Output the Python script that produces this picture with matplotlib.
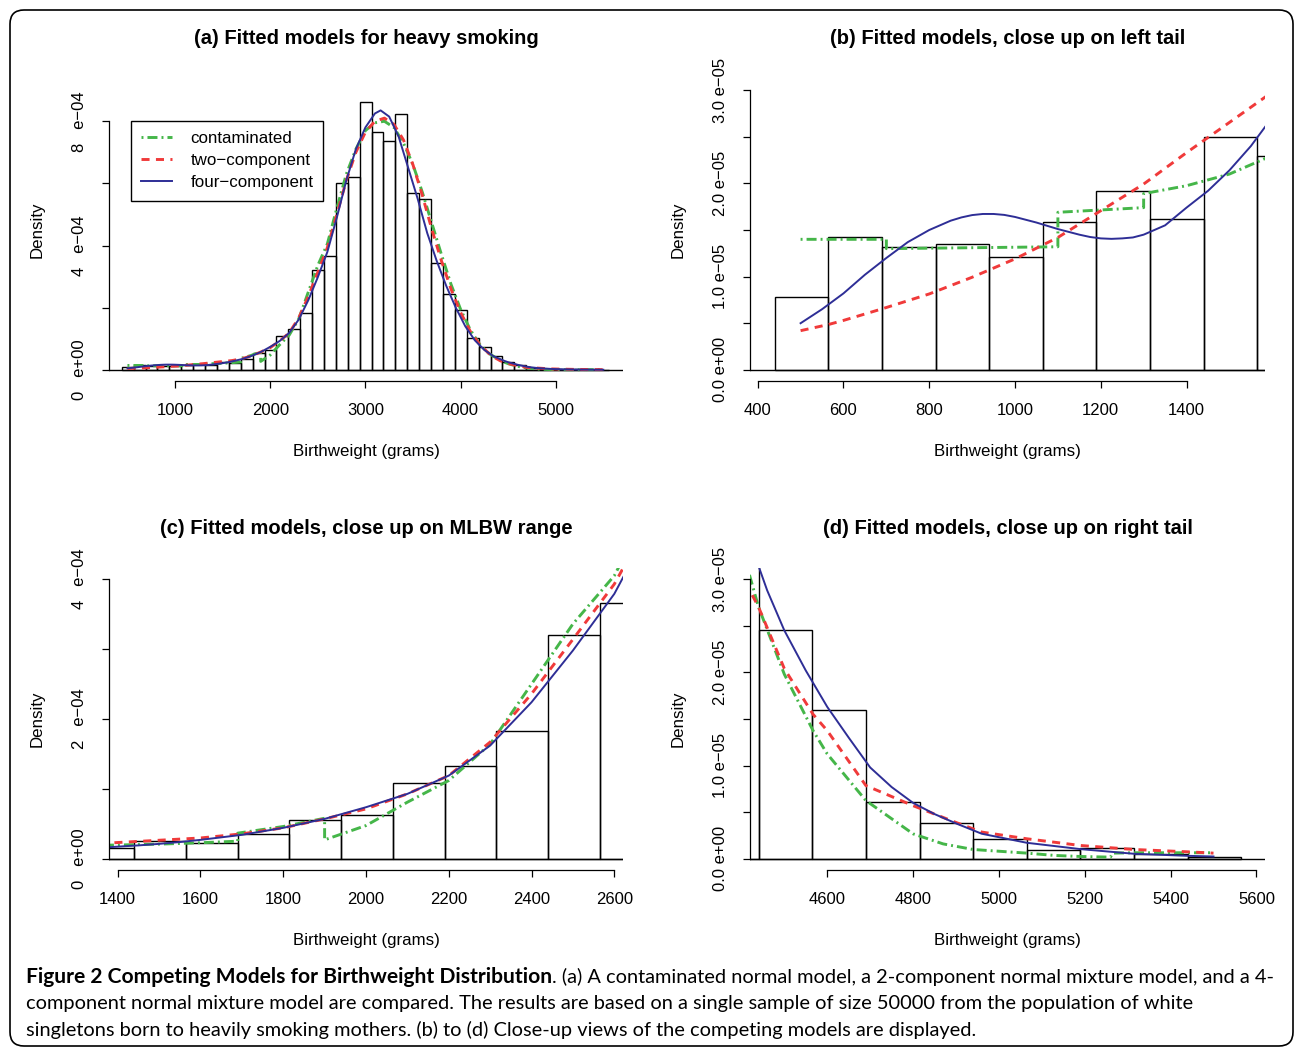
import numpy as np
import matplotlib
matplotlib.use('Agg')
import matplotlib.pyplot as plt
from matplotlib.patches import FancyBboxPatch
from matplotlib.transforms import IdentityTransform

plt.rcParams['font.family'] = ['Liberation Sans', 'DejaVu Sans']
plt.rcParams['lines.scale_dashes'] = False

# histogram of birthweights (bins of 125 g, left edges 440..5440 g), density in units of 1e-5
bin_left = np.arange(440, 5441, 125)
hist_density = [0.786, 1.425, 1.314, 1.346, 1.214, 1.582, 1.918, 1.614, 2.496, 2.289,
                3.57, 5.57, 6.33, 10.81, 13.24, 18.24, 32.05, 36.57, 60.2, 62.0,
                86.1, 76.5, 73.6, 82.2, 56.8, 55.0, 34.3, 24.5, 19.1, 10.2,
                7.5, 4.3, 2.45, 1.60, 0.611, 0.386, 0.215, 0.097, 0.115, 0.054, 0.018]

# contaminated normal model (density in 1e-5)
x_cont = [500, 700, 700, 1100, 1100, 1300, 1300, 1400, 1500, 1600, 1690, 1690, 1800, 1900, 1900,
          2000, 2100, 2200, 2300, 2400, 2500, 2600, 2700, 2800, 2900, 3000, 3100, 3200, 3300,
          3400, 3500, 3600, 3700, 3800, 3900, 4000, 4100, 4200, 4300, 4360, 4420, 4440, 4500,
          4567, 4600, 4690, 4800, 4870, 4940, 5065, 5130, 5190, 5260, 5265, 5315, 5440, 5500]
y_cont = [1.40, 1.40, 1.30, 1.32, 1.69, 1.74, 1.89, 1.975, 2.10, 2.30, 2.52, 3.67, 4.62, 5.80, 2.71,
          4.76, 8.10, 11.2, 16.4, 25.0, 33.6, 40.5, 52, 63, 71, 77, 79.5, 80, 78,
          73, 66, 57, 47, 37, 27.5, 19.5, 13, 8.2, 5.2, 4.1, 3.025, 2.70, 1.98,
          1.375, 1.125, 0.625, 0.268, 0.16, 0.10, 0.061, 0.036, 0.025, 0.018, 0.061, 0.065, 0.065, 0.065]

# two-component normal mixture
x_two = [500, 565, 600, 690, 800, 900, 1000, 1100, 1200, 1300, 1400, 1500, 1600, 1700, 1800,
         1900, 2000, 2100, 2200, 2300, 2400, 2500, 2600, 2700, 2800, 2900, 3000, 3100, 3200,
         3300, 3400, 3500, 3600, 3700, 3800, 3900, 4000, 4100, 4200, 4300, 4360, 4420, 4440,
         4500, 4567, 4600, 4690, 4800, 4900, 4960, 5065, 5190, 5315, 5440, 5500]
y_two = [0.42, 0.486, 0.53, 0.654, 0.814, 0.993, 1.19, 1.42, 1.707, 1.993, 2.33, 2.654, 2.98, 3.57, 4.43,
         5.71, 7.14, 9.29, 11.9, 16.7, 23.6, 31.4, 39.3, 50, 61, 70, 76.5, 80, 81,
         79, 74, 66, 56, 45, 35, 26, 18.5, 12.5, 8.2, 5.2, 3.9, 2.875, 2.70,
         2.04, 1.55, 1.375, 0.786, 0.57, 0.39, 0.287, 0.215, 0.143, 0.10, 0.075, 0.061]

# four-component normal mixture
x_four = [500, 550, 600, 650, 700, 750, 800, 850, 875, 900, 925, 950, 975, 1000, 1050, 1100,
          1150, 1175, 1200, 1225, 1250, 1275, 1300, 1350, 1400, 1450, 1500, 1550, 1600, 1700,
          1800, 1900, 2000, 2100, 2200, 2300, 2400, 2500, 2600, 2700, 2800, 2900, 3000, 3100,
          3160, 3250, 3350, 3450, 3550, 3650, 3750, 3850, 3950, 4050, 4150, 4250, 4350, 4420,
          4460, 4500, 4550, 4600, 4650, 4700, 4750, 4800, 4850, 4900, 4960, 5065, 5190, 5315,
          5440, 5500]
y_four = [0.50, 0.65, 0.82, 1.02, 1.20, 1.37, 1.50, 1.60, 1.635, 1.66, 1.672, 1.672, 1.662, 1.64, 1.58, 1.51,
          1.45, 1.425, 1.41, 1.405, 1.41, 1.42, 1.45, 1.55, 1.74, 1.92, 2.14, 2.40, 2.71, 3.43,
          4.43, 5.71, 7.38, 9.29, 11.9, 16.2, 22.4, 29.8, 37.9, 49, 61, 71, 78, 82.5,
          83.5, 81.5, 75, 65, 55, 44, 35, 27, 20, 14, 9.5, 6.4, 4.3, 3.4,
          2.88, 2.45, 2.02, 1.63, 1.30, 0.98, 0.77, 0.60, 0.48, 0.38, 0.269, 0.172, 0.104, 0.054,
          0.032, 0.025]

GREEN, RED, BLUE = '#45B649', '#F03A3A', '#2E2E96'

W, H = 1295, 1048
fig = plt.figure(figsize=(W / 100, H / 100), dpi=100)

panels = [
    dict(box=(109, 79, 623, 381), xlim=(306, 5707), ylim=(-0.36e-4, 9.36e-4),
         xt=[1000, 2000, 3000, 4000, 5000], yt=[0, 2e-4, 4e-4, 6e-4, 8e-4],
         yl=['0   e+00', '', '4   e\u221204', '', '8   e\u221204'],
         title='(a) Fitted models for heavy smoking', legend=True),
    dict(box=(750, 79, 1265, 381), xlim=(382, 1583), ylim=(-1.2e-6, 3.12e-5),
         xt=[400, 600, 800, 1000, 1200, 1400], yt=[0, 0.5e-5, 1e-5, 1.5e-5, 2e-5, 2.5e-5, 3e-5],
         yl=['0.0 e+00', '', '1.0 e\u221205', '', '2.0 e\u221205', '', '3.0 e\u221205'],
         title='(b) Fitted models, close up on left tail', legend=False),
    dict(box=(109, 568, 623, 870), xlim=(1379, 2621), ylim=(-0.16e-4, 4.16e-4),
         xt=[1400, 1600, 1800, 2000, 2200, 2400, 2600], yt=[0, 1e-4, 2e-4, 3e-4, 4e-4],
         yl=['0   e+00', '', '2   e\u221204', '', '4   e\u221204'],
         title='(c) Fitted models, close up on MLBW range', legend=False),
    dict(box=(750, 568, 1265, 870), xlim=(4420, 5620), ylim=(-1.2e-6, 3.12e-5),
         xt=[4600, 4800, 5000, 5200, 5400, 5600], yt=[0, 0.5e-5, 1e-5, 1.5e-5, 2e-5, 2.5e-5, 3e-5],
         yl=['0.0 e+00', '', '1.0 e\u221205', '', '2.0 e\u221205', '', '3.0 e\u221205'],
         title='(d) Fitted models, close up on right tail', legend=False),
]

for p in panels:
    l, t, r, b = p['box']
    ax = fig.add_axes([l / W, 1 - b / H, (r - l) / W, (b - t) / H])
    ax.bar(bin_left, np.array(hist_density) * 1e-5, width=125, align='edge',
           fill=False, edgecolor='black', linewidth=1.0)
    ax.axhline(0, color='black', lw=1.0)
    ax.plot(x_cont, np.array(y_cont) * 1e-5, color=GREEN, lw=2.1,
            ls=(0, (1.4, 2.9, 7.2, 2.9)), label='contaminated')
    ax.plot(x_two, np.array(y_two) * 1e-5, color=RED, lw=2.1,
            ls=(0, (5.8, 4.6)), label='two\u2212component')
    ax.plot(x_four, np.array(y_four) * 1e-5, color=BLUE, lw=1.4, label='four\u2212component')
    ax.set_xlim(*p['xlim'])
    ax.set_ylim(*p['ylim'])
    for s in ['top', 'right']:
        ax.spines[s].set_visible(False)
    ax.spines['left'].set_bounds(p['yt'][0], p['yt'][-1])
    ax.spines['bottom'].set_bounds(p['xt'][0], p['xt'][-1])
    ax.spines['left'].set_linewidth(0.9)
    ax.spines['bottom'].set_linewidth(0.9)
    ax.set_xticks(p['xt'], [str(v) for v in p['xt']])
    ax.set_yticks(p['yt'], p['yl'], rotation=90, va='center')
    ax.tick_params(direction='out', length=5, width=0.9, labelsize=12, pad=11)
    ax.set_xlabel('Birthweight (grams)', fontsize=12.2, va='center')
    ax.xaxis.set_label_coords(0.5, -0.235)
    ax.set_ylabel('Density', fontsize=12.2, va='center')
    ax.yaxis.set_label_coords((37 - 109) / 514, 0.5)
    ax.text(0.5, 1 + 40 / 302, p['title'], transform=ax.transAxes, ha='center', va='center',
            fontsize=14.5, fontweight='bold')
    if p['legend']:
        ax.legend(loc='upper left', bbox_to_anchor=((131 - l) / (r - l), (b - 121) / (b - t)),
                  borderaxespad=0, fancybox=False, framealpha=1, edgecolor='black',
                  fontsize=12.2, handlelength=1.8, handletextpad=1.1, labelspacing=0.42,
                  borderpad=0.6).get_frame().set_linewidth(1.0)

# caption
cap_font = 'Lato'
t1 = fig.text(26 / W, 1 - 977 / H, 'Figure 2 Competing Models for Birthweight Distribution',
              family=cap_font, fontsize=15.1, fontweight='bold', va='center')
fig.canvas.draw()
bb = t1.get_window_extent()
fig.text(bb.x1 / W, 1 - 977 / H,
         '. (a) A contaminated normal model, a 2-component normal mixture model, and a 4-',
         family=cap_font, fontsize=14.4, va='center')
fig.text(26 / W, 1 - 1004 / H,
         'component normal mixture model are compared. The results are based on a single sample '
         'of size 50000 from the population of white',
         family=cap_font, fontsize=14.4, va='center')
fig.text(26 / W, 1 - 1030 / H,
         'singletons born to heavily smoking mothers. (b) to (d) Close-up views of the competing '
         'models are displayed.',
         family=cap_font, fontsize=14.4, va='center')

border = FancyBboxPatch((10, 2), 1283, 1036, boxstyle='round,pad=0,rounding_size=14',
                        transform=IdentityTransform(), fill=False, lw=1.2, ec='black')
fig.patches.append(border)

fig.savefig('out.png', dpi=100)
